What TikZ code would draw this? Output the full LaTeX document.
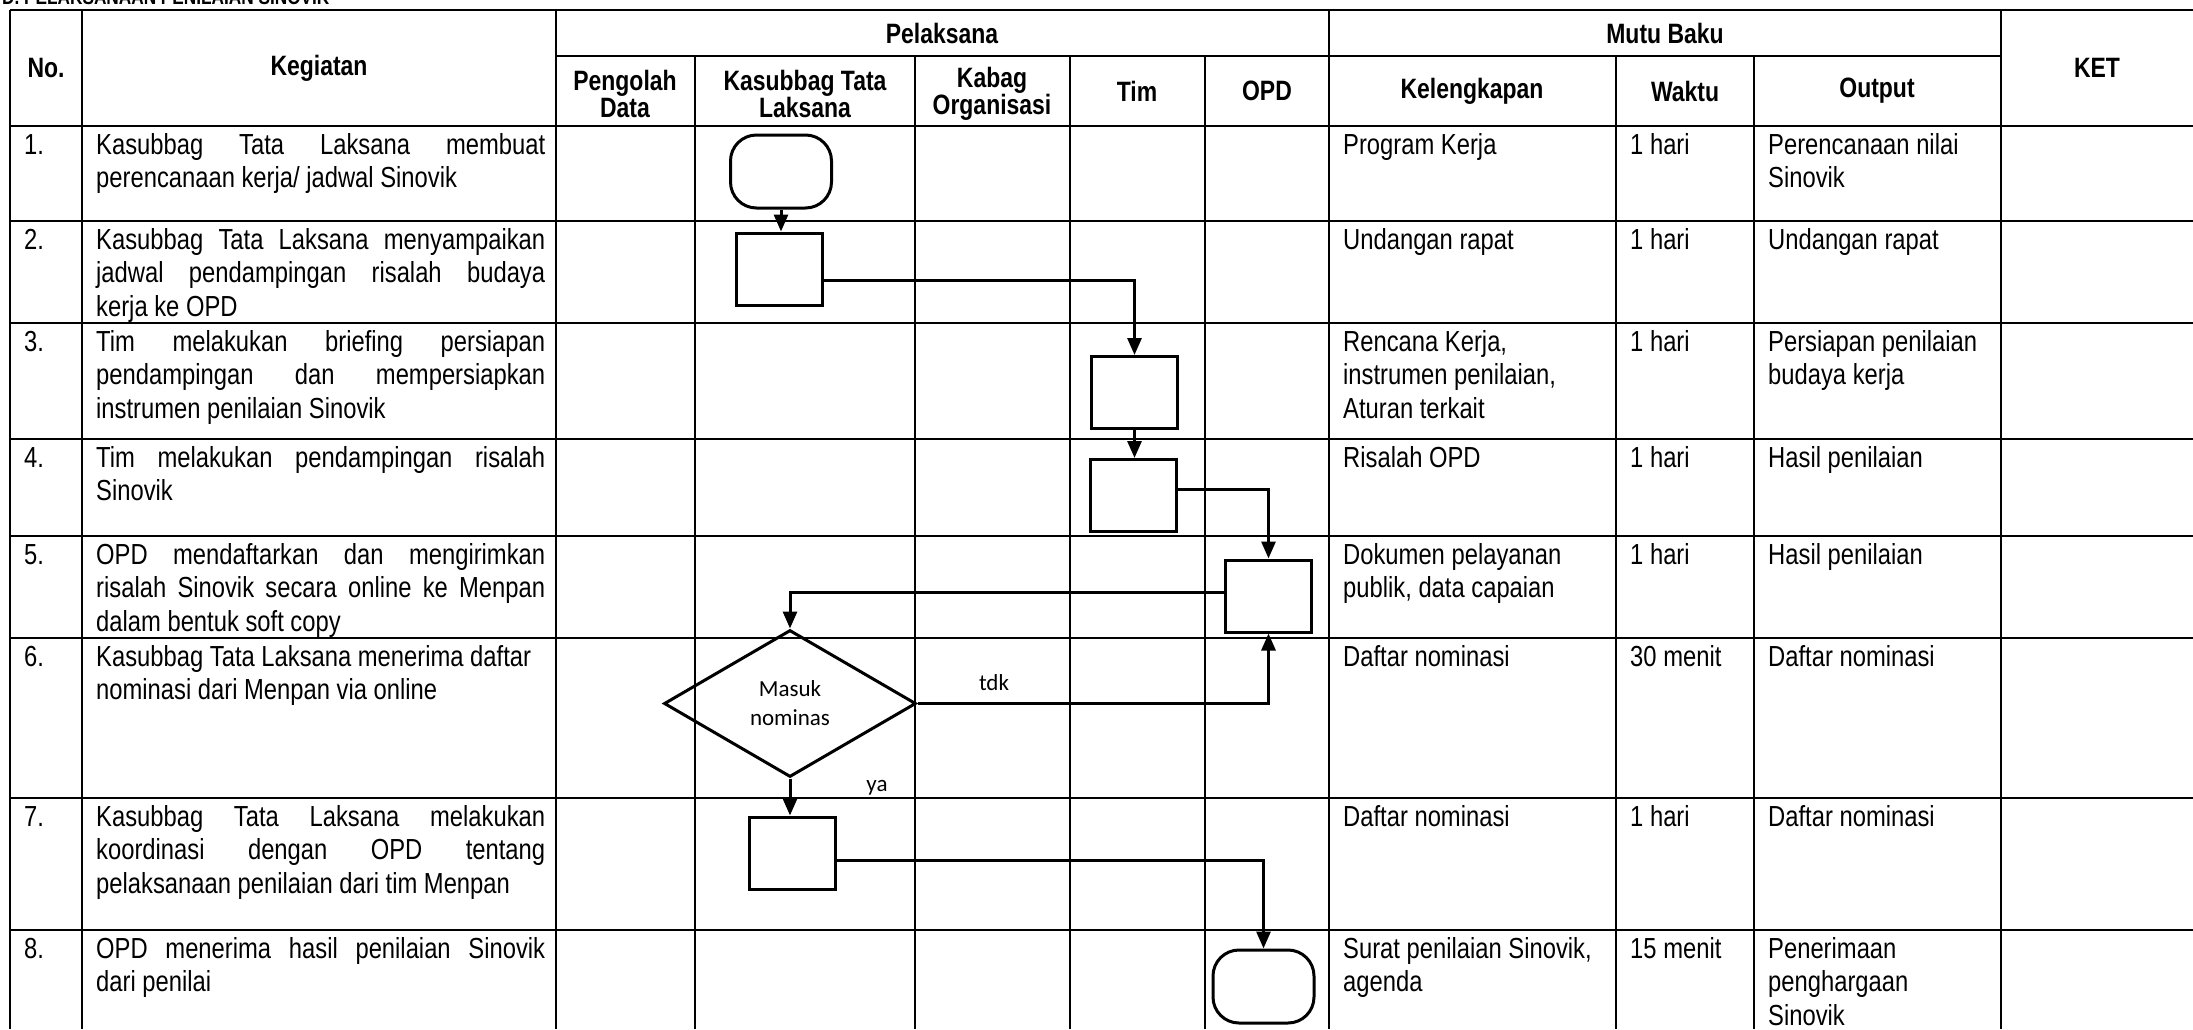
\documentclass[tikz,border=0pt]{standalone}
\usepackage{fontspec}
\setmainfont[FakeStretch=0.82]{Liberation Sans}
\newfontfamily\calib{Carlito}
\usetikzlibrary{shapes.geometric,arrows.meta,calc}
\newcommand\jl[1]{\makebox[449pt][s]{#1}}
\newcommand\ml[1]{\begin{tabular}[t]{@{}l@{}}#1\end{tabular}}
\begin{document}
\begin{tikzpicture}[x=1pt,y=-1pt,
  grid/.style={line width=2.6pt},
  fbox/.style={draw, line width=3pt, minimum width=86pt, minimum height=72pt, inner sep=0pt},
  term/.style={draw, line width=3pt, rounded corners=26pt, minimum width=101pt, minimum height=73pt, inner sep=0pt},
  dec/.style={draw, diamond, line width=3pt, minimum width=252pt, minimum height=147pt, inner sep=0pt, font=\calib\fontsize{23}{29}\selectfont, align=center},
  conn/.style={line width=3pt, -{Triangle[width=14pt,length=17pt]}},
  hd/.style={font=\bfseries\fontsize{28}{27}\selectfont, align=center, inner sep=0pt},
  tx/.style={font=\fontsize{29}{33.5}\selectfont, anchor=base west, inner sep=0pt},
  lbl/.style={font=\calib\fontsize{23}{29}\selectfont, inner sep=0pt}
]
\useasboundingbox (0,0) rectangle (2193,1029);
\clip (0,0) rectangle (2193,1029);
\fill[white] (0,0) rectangle (2193,1029);

% cut-off title
\node[font=\bfseries\fontsize{21}{21}\selectfont, anchor=base west, inner sep=0pt] (title) at (2,4) {D. PELAKSANAAN PENILAIAN SINOVIK};

% grid
\draw[grid] (10,10) -- (2193,10);
\draw[grid] (556,56) -- (2001,56);
\foreach \y in {126,221,323,439,536,638,798,930} \draw[grid] (10,\y) -- (2193,\y);
\foreach \x in {10,82,556,1329,2001} \draw[grid] (\x,10) -- (\x,1029);
\foreach \x in {695,915,1070,1205,1616,1754} \draw[grid] (\x,56) -- (\x,1029);

% headers
\node[hd] (hno) at (46,68) {No.};
\node[hd] (hkeg) at (319,68) {Kegiatan};
\node[hd] (hpel) at (942,33) {Pelaksana};
\node[hd] (hmutu) at (1665,33) {Mutu Baku};
\node[hd] (hket) at (2097,68) {KET};
\node[hd] (hpd) at (625,94) {Pengolah\\Data};
\node[hd] (hkt) at (805,94) {Kasubbag Tata\\Laksana};
\node[hd] (hko) at (992,94) {Kabag\\Organisasi};
\node[hd] (htim) at (1137,91) {Tim};
\node[hd] (hopd) at (1267,91) {OPD};
\node[hd] (hkel) at (1472,91) {Kelengkapan};
\node[hd] (hwak) at (1685,91) {Waktu};
\node[hd] (hout) at (1877,91) {Output};

% numbers
\foreach \t/\n in {126/1,221/2,323/3,439/4,536/5,638/6,798/7,930/8}
  \node[tx] (no\n) at (24,\t+28) {\n.};

% kegiatan
\node[tx] (k1) at (96,154) {\ml{\jl{Kasubbag Tata Laksana membuat}\\perencanaan kerja/ jadwal Sinovik}};
\node[tx] (k2) at (96,249) {\ml{\jl{Kasubbag Tata Laksana menyampaikan}\\\jl{jadwal pendampingan risalah budaya}\\kerja ke OPD}};
\node[tx] (k3) at (96,351) {\ml{\jl{Tim melakukan briefing persiapan}\\\jl{pendampingan dan mempersiapkan}\\instrumen penilaian Sinovik}};
\node[tx] (k4) at (96,467) {\ml{\jl{Tim melakukan pendampingan risalah}\\Sinovik}};
\node[tx] (k5) at (96,564) {\ml{\jl{OPD mendaftarkan dan mengirimkan}\\\jl{risalah Sinovik secara online ke Menpan}\\dalam bentuk soft copy}};
\node[tx] (k6) at (96,666) {\ml{Kasubbag Tata Laksana menerima daftar\\nominasi dari Menpan via online}};
\node[tx] (k7) at (96,826) {\ml{\jl{Kasubbag Tata Laksana melakukan}\\\jl{koordinasi dengan OPD tentang}\\pelaksanaan penilaian dari tim Menpan}};
\node[tx] (k8) at (96,958) {\ml{\jl{OPD menerima hasil penilaian Sinovik}\\dari penilai}};

% kelengkapan
\node[tx] (c1) at (1343,154) {Program Kerja};
\node[tx] (c2) at (1343,249) {Undangan rapat};
\node[tx] (c3) at (1343,351) {\ml{Rencana Kerja,\\instrumen penilaian,\\Aturan terkait}};
\node[tx] (c4) at (1343,467) {Risalah OPD};
\node[tx] (c5) at (1343,564) {\ml{Dokumen pelayanan\\publik, data capaian}};
\node[tx] (c6) at (1343,666) {Daftar nominasi};
\node[tx] (c7) at (1343,826) {Daftar nominasi};
\node[tx] (c8) at (1343,958) {\ml{Surat penilaian Sinovik,\\agenda}};

% waktu
\node[tx] (w1) at (1630,154) {1 hari};
\node[tx] (w2) at (1630,249) {1 hari};
\node[tx] (w3) at (1630,351) {1 hari};
\node[tx] (w4) at (1630,467) {1 hari};
\node[tx] (w5) at (1630,564) {1 hari};
\node[tx] (w6) at (1630,666) {30 menit};
\node[tx] (w7) at (1630,826) {1 hari};
\node[tx] (w8) at (1630,958) {15 menit};

% output
\node[tx] (o1) at (1768,154) {\ml{Perencanaan nilai\\Sinovik}};
\node[tx] (o2) at (1768,249) {Undangan rapat};
\node[tx] (o3) at (1768,351) {\ml{Persiapan penilaian\\budaya kerja}};
\node[tx] (o4) at (1768,467) {Hasil penilaian};
\node[tx] (o5) at (1768,564) {Hasil penilaian};
\node[tx] (o6) at (1768,666) {Daftar nominasi};
\node[tx] (o7) at (1768,826) {Daftar nominasi};
\node[tx] (o8) at (1768,958) {\ml{Penerimaan\\penghargaan\\Sinovik}};

% flowchart
\node[term] (s) at (781,171.5) {};
\node[fbox] (b2) at (779,269) {};
\node[fbox] (b3) at (1134.5,392.5) {};
\node[fbox] (b4) at (1133.5,495.5) {};
\node[fbox] (b5) at (1268.5,596) {};
\node[dec] (d6) at (790,703.5) {Masuk\\nominas};
\node[fbox] (b7) at (792,853) {};
\node[term] (e) at (1263.5,986.5) {};

\draw[conn] (s.south) -- (b2.north -| s.south);
\draw[conn] (b2.east |- 0,280) -| (b3.north);
\draw[conn] (b3.south) -- (b4.north -| b3.south);
\draw[conn] (b4.east |- 0,489) -| (b5.north);
\draw[conn] (b5.west |- 0,592) -| (d6.north);
\draw[conn] (d6.east) -| (b5.south);
\draw[conn] (d6.south) -- (b7.north -| d6.south);
\draw[conn] (b7.east |- 0,860) -| (e.north);

\node[lbl] (tdk) at (994,683) {tdk};
\node[lbl] (ya) at (877,788) {ya};
\end{tikzpicture}
\end{document}
